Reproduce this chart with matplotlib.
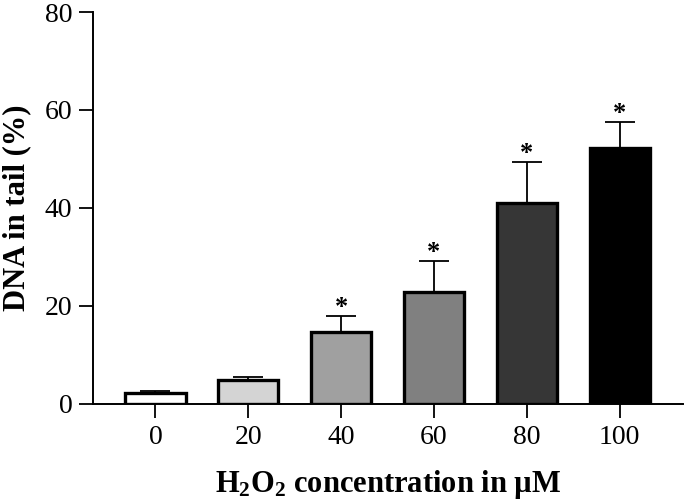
import matplotlib.pyplot as plt
import numpy as np

plt.rcParams["font.family"] = ["Liberation Serif", "DejaVu Serif"]
plt.rcParams["mathtext.fontset"] = "custom"
plt.rcParams["mathtext.rm"] = "Liberation Serif"
plt.rcParams["mathtext.bf"] = "Liberation Serif:bold"

concentracoes = ["0", "20", "40", "60", "80", "100"]
dna_tail = [2.3, 4.9, 14.6, 22.9, 41.0, 52.3]
erro = [0.35, 0.6, 3.4, 6.3, 8.4, 5.2]
significativo = [False, False, True, True, True, True]
cores = ["#ffffff", "#d4d4d4", "#a0a0a0", "#808080", "#363636", "#000000"]

x = np.arange(len(concentracoes))

fig = plt.figure(figsize=(6.85, 5.01), dpi=100)
ax = fig.add_axes([0.136, 0.194, 0.861, 0.782])

ax.bar(x, dna_tail, width=0.65, color=cores, edgecolor="black", linewidth=2.4, zorder=3)
ax.errorbar(x, dna_tail, yerr=[np.zeros(len(erro)), erro], fmt="none",
            ecolor="black", elinewidth=1.3, capsize=11, capthick=1.3, zorder=2)

for xi, yi, ei, sig in zip(x, dna_tail, erro, significativo):
    if sig:
        ax.text(xi, yi + ei - 0.6, "*", ha="center", va="bottom",
                fontsize=19, fontweight="bold")

ax.set_xlim(-0.67, 5.68)
ax.set_ylim(0, 80)
ax.set_yticks([0, 20, 40, 60, 80])
ax.set_xticks(x)
ax.set_xticklabels(concentracoes)
ax.tick_params(direction="out", length=10, width=1.3, labelsize=20, pad=5)

for lado in ["top", "right"]:
    ax.spines[lado].set_visible(False)
for lado in ["left", "bottom"]:
    ax.spines[lado].set_linewidth(1.4)

ax.set_xlabel(r"$\mathbf{H_2O_2}$ concentration in µM", fontsize=22,
              fontweight="bold", labelpad=13)
ax.set_ylabel("DNA in tail (%)", fontsize=22, fontweight="bold", labelpad=10)

fig.savefig("out.png", dpi=100)
